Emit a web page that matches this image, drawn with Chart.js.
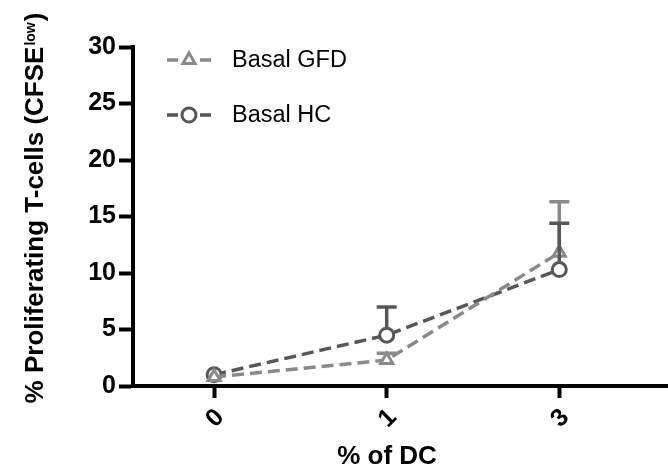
<!DOCTYPE html>
<html>
<head>
<meta charset="utf-8">
<script src="https://cdn.jsdelivr.net/npm/chart.js@4.4.1/dist/chart.umd.min.js"></script>
<style>
  html, body { margin: 0; padding: 0; background: #fff; }
  #wrap { width: 668px; height: 476px; position: relative; }
</style>
</head>
<body>
<div id="wrap"><canvas id="chart"></canvas></div>
<script>
// data
var categories = ["0", "1", "3"];
var gfdValues = [0.8, 2.3, 11.8];
var gfdErrors = [0.3, 0.6, 4.5];
var hcValues = [1.0, 4.5, 10.3];
var hcErrors = [0.2, 2.5, 4.1];
var yTicks = [0, 5, 10, 15, 20, 25, 30];

var gfdColor = "#8a8a8a";
var hcColor = "#575757";
var FONT = "Liberation Sans, Arial, sans-serif";

function toPoints(vals) {
    return vals.map(function (v, i) { return { x: i, y: v }; });
}

// upper error bars
var errorBars = {
    id: "errorBars",
    afterDatasetsDraw: function (chart) {
        var ctx = chart.ctx;
        var yScale = chart.scales.y;
        chart.data.datasets.forEach(function (ds, i) {
            var meta = chart.getDatasetMeta(i);
            ctx.save();
            ctx.strokeStyle = ds.borderColor;
            ctx.lineWidth = 3.5;
            ctx.setLineDash([]);
            meta.data.forEach(function (pt, j) {
                var err = ds.errors[j];
                if (!err) return;
                var y0 = yScale.getPixelForValue(ds.data[j].y) - ds.pointRadius - 1;
                var y1 = yScale.getPixelForValue(ds.data[j].y + err);
                if (j === 0) return; // hidden under the markers at 0
                ctx.beginPath();
                if (y1 < y0) {
                    ctx.moveTo(pt.x, y0);
                    ctx.lineTo(pt.x, y1);
                }
                ctx.moveTo(pt.x - 10, y1);
                ctx.lineTo(pt.x + 10, y1);
                ctx.stroke();
            });
            ctx.restore();
        });
    }
};

// legend inside the plot + axis titles (superscript needs manual drawing)
var extras = {
    id: "extras",
    afterDraw: function (chart) {
        var ctx = chart.ctx;
        ctx.save();
        // legend
        var rows = [
            { ds: chart.data.datasets[0], y: 60 },
            { ds: chart.data.datasets[1], y: 115 }
        ];
        rows.forEach(function (r) {
            ctx.strokeStyle = r.ds.borderColor;
            ctx.lineWidth = 3.5;
            ctx.setLineDash([]);
            ctx.beginPath();
            ctx.moveTo(167, r.y); ctx.lineTo(178, r.y);
            ctx.moveTo(200, r.y); ctx.lineTo(211, r.y);
            ctx.stroke();
            ctx.fillStyle = "#fff";
            ctx.lineWidth = 3;
            Chart.helpers.drawPoint(ctx, {
                pointStyle: r.ds.pointStyle,
                radius: r.ds.pointRadius,
                borderWidth: 3
            }, 189, r.y);
            ctx.fillStyle = "#000";
            ctx.font = "23.5px " + FONT;
            ctx.textAlign = "left";
            ctx.textBaseline = "middle";
            ctx.fillText(r.ds.label, 232, r.y + 1);
        });

        // x title
        ctx.fillStyle = "#000";
        ctx.font = "bold 26px " + FONT;
        ctx.textAlign = "center";
        ctx.textBaseline = "middle";
        ctx.fillText("% of DC", 387, 457);

        // y title, rotated, with superscript
        var main = "% Proliferating T-cells (CFSE";
        var sup = "low";
        var tail = ")";
        ctx.font = "bold 26px " + FONT;
        var wMain = ctx.measureText(main).width;
        var wTail = ctx.measureText(tail).width;
        ctx.font = "bold 14px " + FONT;
        var wSup = ctx.measureText(sup).width;
        var total = wMain + wSup + wTail;
        ctx.translate(43, 209);
        ctx.rotate(-Math.PI / 2);
        ctx.textAlign = "left";
        ctx.textBaseline = "alphabetic";
        var x0 = -total / 2;
        ctx.font = "bold 26px " + FONT;
        ctx.fillText(main, x0, 0);
        ctx.font = "bold 14px " + FONT;
        ctx.fillText(sup, x0 + wMain + 1, -8);
        ctx.font = "bold 26px " + FONT;
        ctx.fillText(tail, x0 + wMain + wSup + 2, 0);
        ctx.restore();
    }
};

var ctx1 = document.getElementById("chart").getContext("2d");
var myChart = new Chart(ctx1, {
    type: "line",
    data: {
        datasets: [
            {
                label: "Basal GFD",
                data: toPoints(gfdValues),
                errors: gfdErrors,
                borderColor: gfdColor,
                backgroundColor: "#fff",
                borderWidth: 3.5,
                borderDash: [12, 6],
                pointStyle: "triangle",
                pointRadius: 7,
                pointBorderWidth: 3,
                pointBackgroundColor: "#fff",
                pointBorderColor: gfdColor,
                clip: false
            },
            {
                label: "Basal HC",
                data: toPoints(hcValues),
                errors: hcErrors,
                borderColor: hcColor,
                backgroundColor: "#fff",
                borderWidth: 3.5,
                borderDash: [12, 6],
                pointStyle: "circle",
                pointRadius: 7,
                pointBorderWidth: 3,
                pointBackgroundColor: "#fff",
                pointBorderColor: hcColor,
                clip: false
            }
        ]
    },
    options: {
        responsive: true,
        maintainAspectRatio: false,
        animation: false,
        layout: {
            autoPadding: false,
            padding: { top: 47, right: 0, left: 0, bottom: 0 }
        },
        plugins: {
            legend: { display: false },
            tooltip: { enabled: false }
        },
        scales: {
            x: {
                type: "linear",
                min: -0.47,
                max: 2.63,
                afterFit: function (s) {
                    s.height = 90;
                    s.paddingLeft = 0;
                    s.paddingRight = 0;
                },
                afterBuildTicks: function (s) {
                    s.ticks = categories.map(function (c, i) { return { value: i }; });
                },
                ticks: {
                    autoSkip: false,
                    minRotation: 45,
                    maxRotation: 45,
                    padding: 5,
                    labelOffset: 6,
                    color: "#000",
                    font: { family: FONT, size: 25, weight: "bold" },
                    callback: function (v) { return categories[v]; }
                },
                grid: {
                    drawOnChartArea: false,
                    drawTicks: true,
                    tickLength: 12,
                    tickWidth: 4,
                    tickColor: "#000"
                },
                border: { display: true, width: 4, color: "#000" }
            },
            y: {
                min: 0,
                max: 30,
                afterFit: function (s) {
                    s.width = 133;
                    s.paddingTop = 0;
                    s.paddingBottom = 0;
                },
                afterBuildTicks: function (s) {
                    s.ticks = yTicks.map(function (v) { return { value: v }; });
                },
                ticks: {
                    padding: 3,
                    color: "#000",
                    font: { family: FONT, size: 25, weight: "bold" }
                },
                grid: {
                    drawOnChartArea: false,
                    drawTicks: true,
                    tickLength: 14,
                    tickWidth: 4,
                    tickColor: "#000"
                },
                border: { display: true, width: 4, color: "#000" }
            }
        }
    },
    plugins: [errorBars, extras]
});
</script>
</body>
</html>
